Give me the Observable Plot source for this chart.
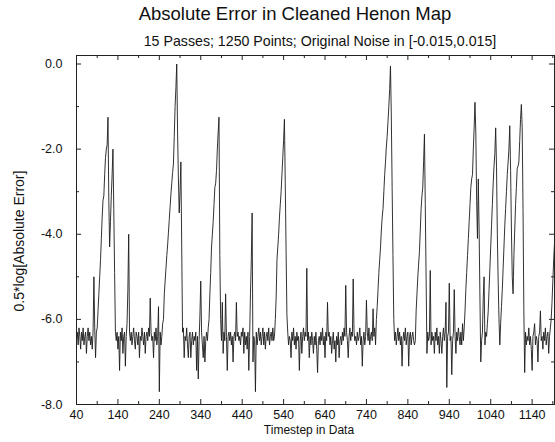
<!DOCTYPE html>
<html>
<head>
<meta charset="utf-8">
<script src="https://cdn.jsdelivr.net/npm/d3@7"></script>
<script src="https://cdn.jsdelivr.net/npm/@observablehq/plot@0.6"></script>
<style>
  body { margin: 0; background: #fff; }
  #wrap { position: relative; width: 555px; height: 442px; font-family: "Liberation Sans", Arial, Helvetica, sans-serif; color: #111; }
  #wrap svg { position: absolute; left: 0; top: 0; }
  .t { position: absolute; white-space: nowrap; line-height: 1; }
</style>
</head>
<body>
<div id="wrap">
  <div class="t" id="title" style="left:295px; top:5px; font-size:18.5px; transform:translateX(-50%);">Absolute Error in Cleaned Henon Map</div>
  <div class="t" id="subtitle" style="left:320px; top:34px; font-size:14.2px; transform:translateX(-50%);">15 Passes; 1250 Points; Original Noise in [-0.015,0.015]</div>
  <div class="t" id="xlabel" style="left:309px; top:424px; font-size:12px; transform:translateX(-50%);">Timestep in Data</div>
  <div class="t" id="ylabel" style="left:19px; top:241px; font-size:14px; transform:translate(-50%,-50%) rotate(-90deg);">0.5*log[Absolute Error]</div>
</div>
<script>
// ---- data ----
const stepStart = 40;   // first timestep
const stepSize = 2;     // sampled every 2 timesteps
const errors = [
  // 40
  -6.5, -6.3, -6.6, -6.2, -6.4, -6.7, -6.3, -6.5, -6.2, -6.6,
  // 60
  -6.4, -6.3, -6.8, -6.4, -6.2, -6.5, -6.3, -6.6, -6.4, -6.7,
  // 80
  -6.3, -5.0, -6.2, -6.9, -6.3, -6.2, -5.8, -5.4, -5.0, -4.6,
  // 100
  -4.1, -3.6, -3.2, -3.1, -2.6, -2.2, -2.0, -1.9, -1.25, -3.2,
  // 120
  -4.3, -3.7, -3.1, -2.6, -2.0, -3.4, -4.9, -6.3, -6.5, -6.3,
  // 140
  -6.7, -6.4, -7.2, -6.3, -6.5, -6.2, -6.8, -6.4, -6.3, -7.1,
  // 160
  -6.4, -6.1, -5.3, -4.0, -6.3, -6.5, -6.3, -6.6, -6.4, -6.2,
  // 180
  -6.5, -6.7, -6.3, -6.4, -6.6, -6.3, -6.9, -6.4, -6.5, -6.2,
  // 200
  -6.4, -6.6, -6.3, -6.8, -6.4, -6.3, -6.5, -6.2, -6.4, -5.5,
  // 220
  -6.3, -6.5, -6.4, -6.9, -6.3, -6.5, -6.2, -6.6, -6.4, -5.7,
  // 240
  -7.7, -6.3, -6.6, -6.4, -6.1, -6.0, -5.4, -5.1, -4.8, -4.5,
  // 260
  -4.25, -3.95, -3.65, -3.35, -3.05, -2.8, -2.55, -2.35, -1.7, -1.0,
  // 280
  -0.55, 0.0, -1.6, -2.7, -3.5, -3.0, -2.3, -4.3, -6.3, -6.2,
  // 300
  -6.9, -6.4, -6.5, -6.2, -6.6, -6.9, -6.4, -6.3, -6.9, -6.5,
  // 320
  -6.3, -6.6, -6.4, -6.5, -6.3, -7.2, -6.4, -7.4, -6.5, -5.9,
  // 340
  -5.1, -6.3, -6.6, -6.9, -6.4, -7.0, -6.5, -6.3, -6.5, -6.2,
  // 360
  -6.0, -5.4, -4.9, -4.3, -4.0, -3.7, -3.3, -2.9, -2.8, -2.5,
  // 380
  -2.0, -1.6, -1.25, -4.5, -6.0, -6.5, -5.6, -6.8, -6.3, -6.5,
  // 400
  -5.4, -6.4, -7.2, -6.4, -6.3, -6.5, -6.3, -6.6, -6.4, -7.0,
  // 420
  -6.4, -6.3, -6.5, -5.6, -6.4, -6.3, -6.5, -6.4, -6.6, -6.3,
  // 440
  -6.4, -6.2, -6.8, -6.3, -6.6, -6.4, -6.7, -6.3, -7.2, -6.4,
  // 460
  -5.4, -4.6, -3.5, -7.0, -6.4, -6.5, -7.7, -6.3, -6.6, -6.4,
  // 480
  -6.2, -6.5, -6.3, -6.6, -6.4, -6.2, -6.6, -6.3, -6.7, -6.4,
  // 500
  -6.3, -6.5, -6.2, -6.6, -6.4, -6.3, -6.5, -6.2, -6.5, -6.4,
  // 520
  -6.0, -5.5, -4.6, -4.3, -4.0, -3.6, -3.3, -3.0, -2.6, -2.2,
  // 540
  -1.8, -1.3, -2.8, -4.4, -5.9, -6.3, -6.6, -6.4, -6.5, -6.9,
  // 560
  -6.3, -6.5, -6.2, -6.6, -6.4, -6.7, -6.3, -6.5, -6.4, -7.2,
  // 580
  -6.5, -6.3, -6.8, -6.4, -6.2, -6.5, -6.3, -6.4, -4.8, -6.5,
  // 600
  -6.3, -6.9, -6.4, -6.6, -6.3, -6.5, -6.8, -6.4, -6.6, -6.3,
  // 620
  -6.7, -7.25, -6.5, -6.4, -6.6, -6.3, -6.5, -6.2, -6.6, -6.4,
  // 640
  -6.9, -6.3, -6.5, -5.6, -6.4, -6.3, -6.6, -6.4, -6.8, -6.5,
  // 660
  -6.3, -6.7, -6.5, -7.0, -6.4, -6.6, -6.3, -6.9, -6.5, -6.4,
  // 680
  -6.6, -6.3, -6.5, -6.2, -6.4, -5.2, -6.3, -6.5, -6.9, -6.4,
  // 700
  -6.2, -6.5, -6.3, -6.4, -5.05, -6.3, -6.5, -6.4, -6.6, -6.3,
  // 720
  -6.5, -6.4, -6.2, -6.6, -6.4, -7.1, -6.5, -6.3, -6.6, -6.4,
  // 740
  -5.55, -6.3, -6.5, -6.2, -6.6, -6.4, -6.3, -6.5, -5.75, -6.4,
  // 760
  -6.2, -6.6, -6.0, -5.7, -5.3, -4.9, -4.6, -4.3, -3.9, -3.6,
  // 780
  -3.4, -3.0, -2.6, -2.3, -1.95, -1.7, -1.35, -1.0, -0.6, -0.05,
  // 800
  -1.2, -2.9, -4.5, -6.0, -6.5, -6.3, -6.6, -6.4, -6.2, -6.5,
  // 820
  -6.3, -6.6, -6.4, -7.1, -6.5, -6.3, -6.5, -6.2, -6.6, -6.4,
  // 840
  -6.3, -7.1, -6.4, -6.3, -6.6, -6.4, -6.3, -6.5, -6.6, -6.5,
  // 860
  -5.8, -5.4, -5.0, -4.7, -4.4, -3.9, -3.4, -3.1, -2.9, -2.3,
  // 880
  -1.65, -3.3, -5.0, -6.8, -6.3, -6.5, -6.4, -4.85, -6.6, -6.3,
  // 900
  -6.5, -6.4, -6.8, -6.3, -6.5, -6.2, -6.6, -6.4, -6.8, -6.3,
  // 920
  -6.5, -6.8, -6.4, -6.2, -6.5, -6.3, -5.6, -7.6, -6.4, -6.3,
  // 940
  -5.15, -6.5, -6.4, -7.3, -6.5, -6.3, -5.3, -6.4, -6.8, -6.3,
  // 960
  -6.5, -6.2, -6.4, -6.6, -6.3, -6.6, -6.1, -6.5, -6.2, -5.8,
  // 980
  -5.3, -4.9, -4.5, -4.1, -3.7, -3.3, -2.9, -2.7, -2.6, -2.0,
  // 1000
  -1.5, -0.9, -1.6, -3.2, -4.1, -2.7, -3.9, -5.5, -7.0, -6.5,
  // 1020
  -6.3, -5.5, -5.0, -6.6, -6.3, -6.4, -6.1, -5.8, -5.3, -4.8,
  // 1040
  -4.3, -3.8, -3.3, -2.8, -2.4, -2.1, -1.5, -2.4, -4.0, -5.1,
  // 1060
  -6.0, -6.6, -6.1, -5.7, -5.3, -4.8, -4.3, -3.8, -3.4, -3.0,
  // 1080
  -2.6, -2.3, -2.0, -1.45, -2.5, -3.9, -5.0, -5.4, -4.5, -3.9,
  // 1100
  -3.3, -2.9, -2.45, -2.4, -2.3, -1.8, -1.3, -0.95, -1.5, -3.4,
  // 1120
  -5.8, -7.25, -6.3, -6.6, -6.4, -6.5, -6.2, -6.6, -6.4, -6.7,
  // 1140
  -7.2, -6.4, -6.3, -6.1, -6.6, -6.4, -6.5, -7.0, -6.4, -6.3,
  // 1160
  -5.8, -6.5, -6.4, -6.7, -6.3, -6.5, -6.2, -6.6, -6.4, -6.3,
  // 1180
  -6.8, -6.4, -6.2, -6.0, -5.6, -5.1, -4.6, -4.2
];
const xMajorTicks = [40, 140, 240, 340, 440, 540, 640, 740, 840, 940, 1040, 1140];
const xMinorTicks = [90, 190, 290, 390, 490, 590, 690, 790, 890, 990, 1090, 1190];
const yMajorTicks = [-8, -6, -4, -2, 0];
const yMinorTicks = [-7, -5, -3, -1];

// ---- layout ----
const W = 555, H = 442, mT = 55, mB = 38, mL = 76, mR = 1;
const frameH = H - mT - mB, frameW = W - mL - mR;
const majorLen = 5, minorLen = 3;

const table = errors.map((v, i) => ({t: stepStart + stepSize * i, v}));

const chart = Plot.plot({
  width: W, height: H,
  marginTop: mT, marginBottom: mB, marginLeft: mL, marginRight: mR,
  style: {fontFamily: '"Liberation Sans", Arial, Helvetica, sans-serif', fontSize: "12px", color: "#111", background: "#fff"},
  x: {domain: [40, 1194]},
  y: {domain: [-8, 0.2]},
  marks: [
    Plot.line(table, {x: "t", y: "v", stroke: "#1c1c1c", strokeWidth: 0.9}),
    Plot.frame({stroke: "#222", strokeWidth: 1}),
    // inward ticks: bottom / top
    Plot.tickX(xMajorTicks, {x: d => d, insetTop: frameH - majorLen, stroke: "#222"}),
    Plot.tickX(xMajorTicks, {x: d => d, insetBottom: frameH - majorLen, stroke: "#222"}),
    Plot.tickX(xMinorTicks, {x: d => d, insetTop: frameH - minorLen, stroke: "#222"}),
    Plot.tickX(xMinorTicks, {x: d => d, insetBottom: frameH - minorLen, stroke: "#222"}),
    // inward ticks: left / right
    Plot.tickY(yMajorTicks, {y: d => d, insetRight: frameW - majorLen, stroke: "#222"}),
    Plot.tickY(yMajorTicks, {y: d => d, insetLeft: frameW - majorLen, stroke: "#222"}),
    Plot.tickY(yMinorTicks, {y: d => d, insetRight: frameW - minorLen, stroke: "#222"}),
    Plot.tickY(yMinorTicks, {y: d => d, insetLeft: frameW - minorLen, stroke: "#222"}),
    Plot.axisX(xMajorTicks, {tickSize: 0, tickPadding: 6, tickFormat: d => String(d), label: null, fontSize: 12.5}),
    Plot.axisY(yMajorTicks, {tickSize: 0, tickPadding: 14, tickFormat: d => d.toFixed(1), label: null, fontSize: 12.5})
  ]
});
document.getElementById("wrap").prepend(chart);
</script>
</body>
</html>
